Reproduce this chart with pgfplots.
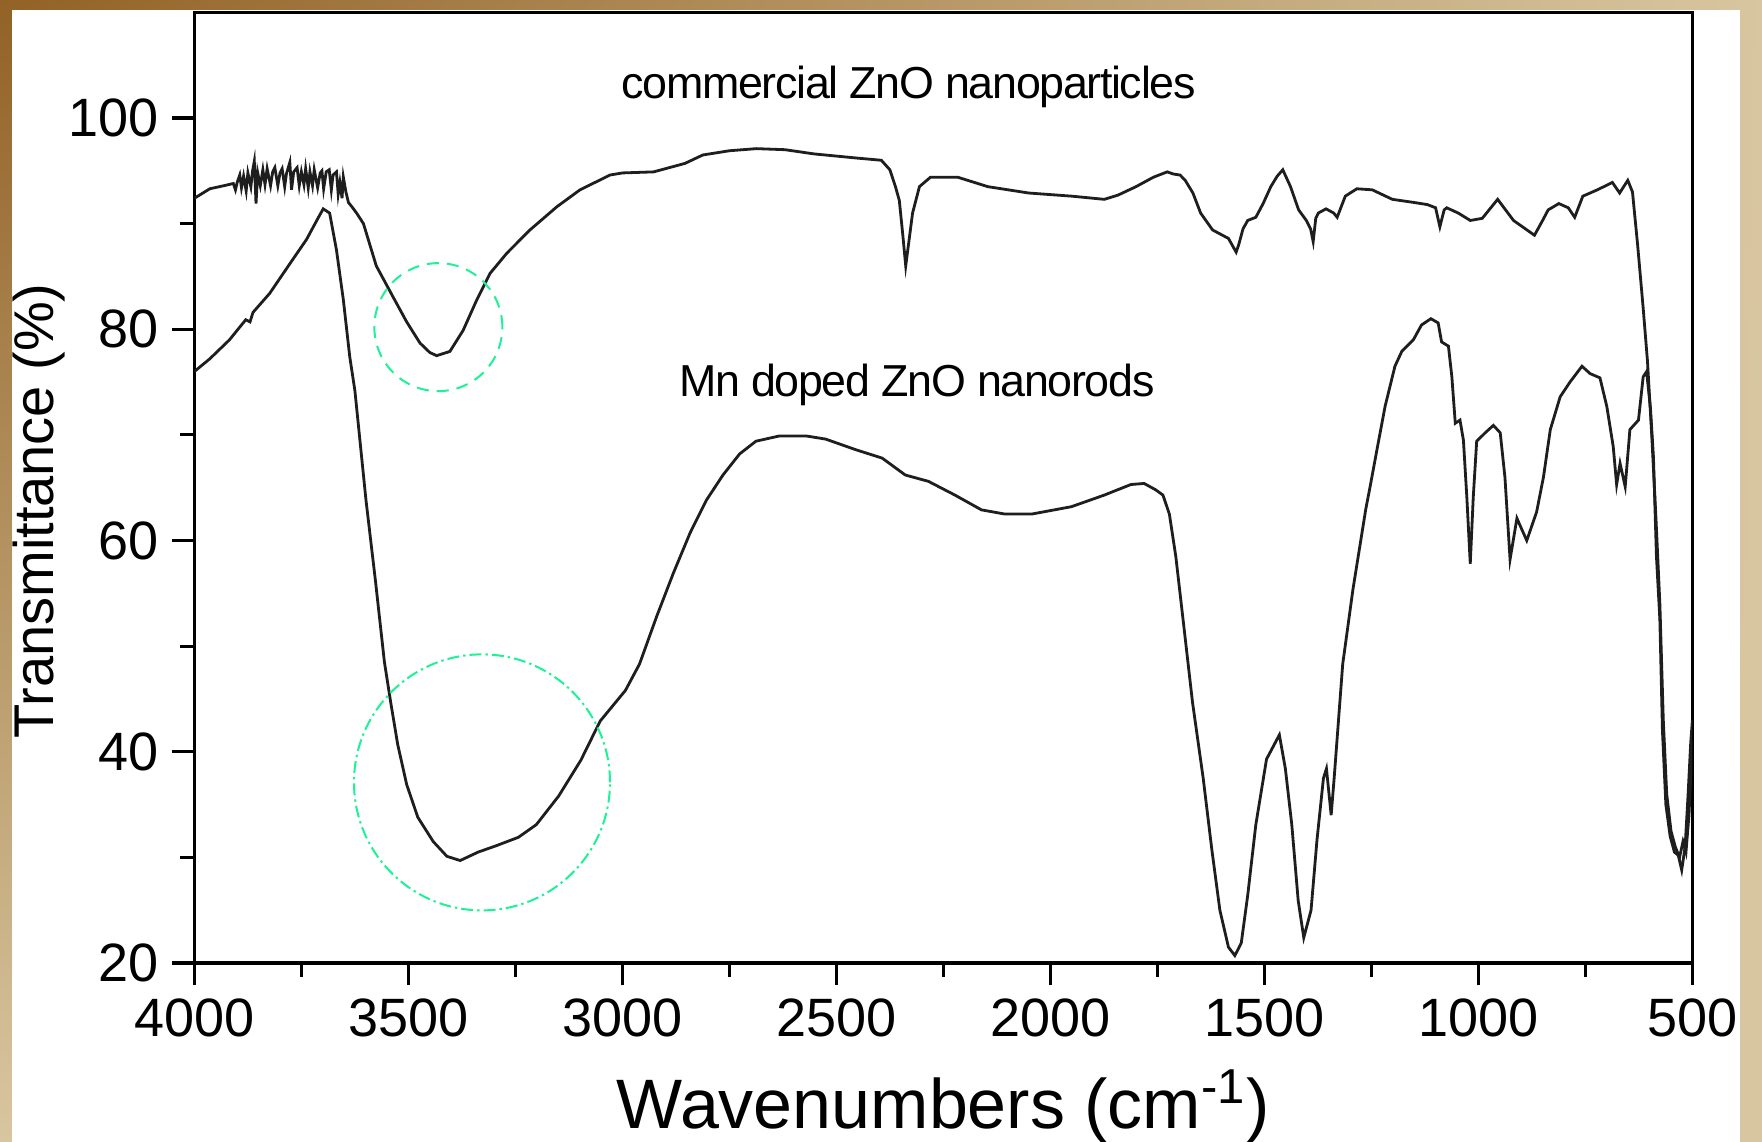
\documentclass[border=0pt]{standalone}
\usepackage{pgfplots}
\pgfplotsset{compat=1.18}
\usetikzlibrary{shadings}
\usepackage{fontspec}
\setmainfont{Liberation Sans}

\definecolor{frameA}{RGB}{146,98,38}
\definecolor{frameB}{RGB}{216,198,160}
\definecolor{ring}{RGB}{30,242,150}
\definecolor{trace}{RGB}{30,30,30}

\begin{document}
\begin{tikzpicture}
\useasboundingbox (0,0) rectangle (440.5pt,285.5pt);
% brown picture frame
\shade[upper left=frameA, upper right=frameB, lower left=frameB, lower right=frameB]
  (0,0) rectangle (440.5pt,285.5pt);
\fill[white] (2.9pt,0) rectangle (435pt,283pt);

\begin{axis}[
    at={(48.6pt,44.75pt)}, anchor=south west,
    width=374.5pt, height=237.65pt, scale only axis,
    xmin=500, xmax=4000, x dir=reverse,
    ymin=20, ymax=110,
    xtick={500,1000,...,4000},
    ytick={20,40,...,100},
    minor x tick num=1, minor y tick num=1,
    tick pos=left, tick align=outside,
    major tick length=5.5pt, minor tick length=3.5pt,
    every tick/.style={black, line width=0.8pt},
    axis line style={line width=0.9pt},
    /pgf/number format/1000 sep={},
    /pgf/number format/assume math mode=true,
    tick label style={font=\fontsize{13.5}{14}\selectfont},
    xlabel={Wavenumbers (cm\textsuperscript{-1})},
    ylabel={Transmittance (\%)},
    xlabel style={font=\fontsize{17.5}{18}\selectfont,
        at={(axis description cs:0.5,-0.1746)}, anchor=base},
    ylabel style={font=\fontsize{14}{15}\selectfont,
        at={(axis description cs:-0.1036,0.4755)}, anchor=center},
]

% commercial ZnO nanoparticles
\addplot[trace, line width=0.7pt] coordinates {
(4000,92.4) (3964,93.3) (3930,93.6) (3909,93.8) (3904,93.2) (3900,93.9) (3894,94.6)
(3890,93.4) (3885,94.5) (3879,93.1) (3875,94.8) (3868,93.5) (3864,95.0) (3860,95.9)
(3856,91.9) (3852,94.8) (3846,93.6) (3840,95.1) (3835,93.7) (3830,95.2) (3822,93.6)
(3817,94.9) (3812,95.3) (3805,93.6) (3800,94.8) (3795,95.2) (3789,93.5) (3785,94.7)
(3777,95.8) (3773,93.2) (3768,94.9) (3760,95.3) (3755,93.6) (3750,94.9) (3744,93.7)
(3740,95.2) (3734,93.4) (3730,94.9) (3724,93.6) (3720,95.1) (3712,93.4) (3706,94.8)
(3702,95.0) (3698,93.3) (3692,94.9) (3685,95.1) (3680,93.2) (3676,94.6) (3668,94.9)
(3664,92.8) (3660,93.9) (3655,92.4) (3652,94.4) (3646,93.0) (3640,92.0) (3632,91.6)
(3621,91.0) (3605,90.0) (3590,88.0) (3575,86.0) (3559,84.8) (3535,83.0) (3504,80.7)
(3473,78.7) (3450,77.8) (3434,77.5) (3403,77.9) (3372,79.9) (3340,82.8) (3309,85.3)
(3270,87.2) (3216,89.4) (3153,91.6) (3099,93.2) (3029,94.6) (3000,94.8) (2927,94.9)
(2854,95.7) (2812,96.5) (2750,96.9) (2687,97.1) (2620,97.0) (2552,96.6) (2450,96.2)
(2395,96.0) (2375,95.1) (2362,93.5) (2353,92.2) (2345,89.0) (2338,86.0) (2330,88.5)
(2322,91.0) (2306,93.5) (2280,94.4) (2217,94.4) (2146,93.5) (2051,92.9) (1950,92.6)
(1874,92.3) (1842,92.7) (1800,93.5) (1759,94.4) (1727,94.9) (1713,94.7) (1697,94.6)
(1685,94.1) (1667,92.9) (1649,91.0) (1621,89.4) (1584,88.6) (1566,87.3) (1560,88.0)
(1550,89.5) (1539,90.3) (1520,90.6) (1503,91.9) (1485,93.5) (1470,94.5) (1457,95.1)
(1439,93.5) (1420,91.3) (1402,90.3) (1392,89.5) (1386,88.3) (1380,90.5) (1374,91.0)
(1356,91.4) (1338,91.0) (1330,90.6) (1311,92.6) (1284,93.3) (1248,93.2) (1201,92.3)
(1150,92.0) (1119,91.8) (1100,91.5) (1090,89.7) (1080,91.3) (1074,91.5) (1047,91.0)
(1019,90.3) (991,90.5) (955,92.3) (918,90.3) (890,89.5) (869,88.9) (850,90.3)
(837,91.3) (812,91.9) (790,91.5) (775,90.6) (756,92.6) (722,93.2) (687,93.9)
(670,92.9) (651,94.1) (640,93.0) (628,88.0) (615,82.0) (605,77.0) (595,70.0)
(585,62.0) (576,54.0) (568,43.0) (560,36.0) (550,32.5) (540,31.0) (530,30.0)
(522,31.5) (515,30.5) (508,34.0) (500,41.0)
};

% Mn doped ZnO nanorods
\addplot[trace, line width=0.7pt] coordinates {
(4000,76.0) (3964,77.2) (3918,79.0) (3880,80.9) (3870,80.7) (3863,81.6) (3824,83.4)
(3777,86.2) (3738,88.5) (3710,90.6) (3699,91.4) (3684,91.0) (3668,87.5) (3652,82.8)
(3637,77.4) (3625,74.2) (3599,63.8) (3577,56.2) (3556,48.5) (3541,44.6) (3525,40.7)
(3504,36.9) (3478,33.8) (3442,31.5) (3410,30.1) (3379,29.7) (3337,30.5) (3295,31.1)
(3243,31.9) (3201,33.1) (3149,35.8) (3097,39.2) (3052,42.9) (2993,45.8) (2960,48.3)
(2920,52.8) (2881,56.9) (2842,60.7) (2804,63.8) (2765,66.2) (2726,68.2) (2688,69.4)
(2633,69.9) (2571,69.9) (2525,69.6) (2455,68.6) (2393,67.8) (2339,66.2) (2285,65.6)
(2223,64.3) (2161,62.9) (2106,62.5) (2044,62.5) (1951,63.2) (1874,64.3) (1812,65.3)
(1781,65.4) (1754,64.8) (1737,64.3) (1722,62.5) (1707,58.5) (1688,51.8) (1668,44.7)
(1643,37.5) (1623,30.8) (1604,25.0) (1584,21.5) (1569,20.7) (1554,21.9) (1539,26.4)
(1520,33.1) (1495,39.3) (1465,41.6) (1451,38.4) (1436,33.1) (1421,25.9) (1408,22.4)
(1391,25.0) (1377,31.7) (1362,37.5) (1355,38.4) (1344,34.0) (1337,37.5) (1317,48.3)
(1293,55.4) (1263,63.0) (1253,65.1) (1237,68.6) (1218,72.7) (1195,76.5) (1179,77.9)
(1152,79.0) (1133,80.4) (1111,81.0) (1094,80.6) (1086,78.8) (1070,78.4) (1062,75.5)
(1054,71.1) (1043,71.4) (1035,69.5) (1027,64.1) (1019,57.8) (1012,64.1) (1004,69.4)
(984,70.2) (965,70.9) (949,70.2) (938,66.0) (926,58.2) (910,62.1) (887,60.0)
(864,62.7) (848,66.0) (832,70.5) (809,73.6) (786,75.0) (758,76.5) (739,75.8)
(716,75.4) (700,72.7) (685,68.9) (677,65.3) (669,67.3) (657,65.1) (646,70.5)
(626,71.4) (615,75.5) (607,76.0) (598,72.5) (591,67.9) (584,58.5) (576,52.5)
(570,42.0) (562,35.0) (552,32.0) (542,30.5) (533,30.2) (525,28.8) (517,31.0)
(510,36.0) (504,40.8) (500,43.0)
};

\node[font=\fontsize{11.2}{12}\selectfont\addfontfeatures{LetterSpace=-3}]
  at (axis cs:2331,102.9) {commercial ZnO nanoparticles};
\node[font=\fontsize{11.2}{12}\selectfont\addfontfeatures{LetterSpace=-3}]
  at (axis cs:2312,74.7) {Mn doped ZnO nanorods};

\draw[ring, densely dashed, line width=0.5pt] (axis cs:3430,80.2) circle[radius=16pt];
\draw[ring, dash pattern=on 3pt off 1pt on 0.6pt off 1pt, line width=0.5pt]
  (axis cs:3328,37.1) circle[radius=32pt];
\end{axis}
\end{tikzpicture}
\end{document}
